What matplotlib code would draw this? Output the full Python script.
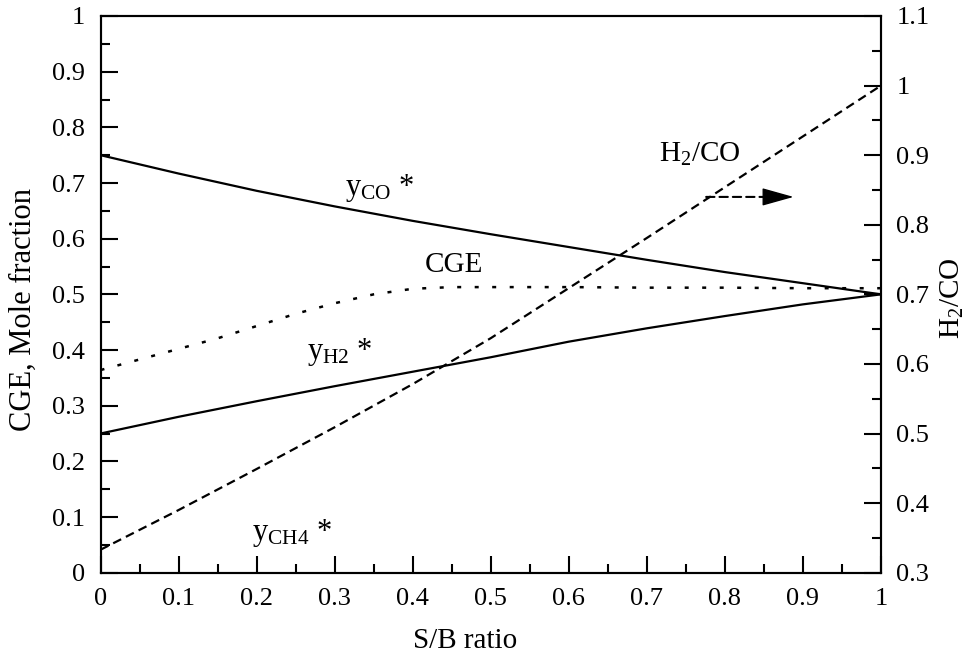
import matplotlib
matplotlib.use("Agg")
import matplotlib.pyplot as plt
from matplotlib.ticker import FixedLocator, MultipleLocator, FixedFormatter

plt.rcParams["font.family"] = ["Liberation Serif", "DejaVu Serif"]
plt.rcParams["mathtext.fontset"] = "custom"
plt.rcParams["mathtext.rm"] = "Liberation Serif"
plt.rcParams["mathtext.it"] = "Liberation Serif:italic"

# Steam-to-biomass ratio
sb = [0.0, 0.1, 0.2, 0.3, 0.4, 0.5, 0.6, 0.7, 0.8, 0.9, 1.0]
y_co = [0.750, 0.717, 0.686, 0.658, 0.632, 0.608, 0.585, 0.562, 0.540, 0.520, 0.500]
y_h2 = [0.250, 0.280, 0.308, 0.335, 0.361, 0.387, 0.415, 0.439, 0.461, 0.482, 0.500]
h2_co = [0.333, 0.390, 0.449, 0.509, 0.571, 0.637, 0.709, 0.781, 0.854, 0.927, 1.000]

# Cold gas efficiency
sb_cge = [0.0, 0.05, 0.1, 0.15, 0.2, 0.25, 0.3, 0.35, 0.4, 0.45, 0.5, 0.6, 0.7, 0.8, 0.9, 1.0]
cge = [0.364, 0.383, 0.402, 0.421, 0.443, 0.465, 0.484, 0.500, 0.510, 0.513, 0.513,
       0.513, 0.512, 0.512, 0.511, 0.511]

x_ticks = [0.0, 0.1, 0.2, 0.3, 0.4, 0.5, 0.6, 0.7, 0.8, 0.9, 1.0]
x_labels = ["0", "0.1", "0.2", "0.3", "0.4", "0.5", "0.6", "0.7", "0.8", "0.9", "1"]
left_ticks = [0.0, 0.1, 0.2, 0.3, 0.4, 0.5, 0.6, 0.7, 0.8, 0.9, 1.0]
left_labels = ["0", "0.1", "0.2", "0.3", "0.4", "0.5", "0.6", "0.7", "0.8", "0.9", "1"]
right_ticks = [0.3, 0.4, 0.5, 0.6, 0.7, 0.8, 0.9, 1.0, 1.1]
right_labels = ["0.3", "0.4", "0.5", "0.6", "0.7", "0.8", "0.9", "1", "1.1"]

fig = plt.figure(figsize=(9.74, 6.61), dpi=100)
ax = fig.add_axes([0.1032, 0.1336, 0.8013, 0.8422])
ax2 = ax.twinx()

lw = 1.6
dash = (0, (4.0, 2.4))
ax.plot(sb, y_co, color="black", lw=lw)
ax.plot(sb, y_h2, color="black", lw=lw)
ax.plot(sb_cge, cge, color="black", lw=1.8, linestyle=(0, (1.6, 5.4)))
ax2.plot(sb, h2_co, color="black", lw=lw, linestyle=dash)

ax.set_xlim(0, 1)
ax.set_ylim(0, 1)
ax2.set_ylim(0.3, 1.1)

ax.xaxis.set_major_locator(FixedLocator(x_ticks))
ax.xaxis.set_major_formatter(FixedFormatter(x_labels))
ax.xaxis.set_minor_locator(MultipleLocator(0.05))
ax.yaxis.set_major_locator(FixedLocator(left_ticks))
ax.yaxis.set_major_formatter(FixedFormatter(left_labels))
ax.yaxis.set_minor_locator(MultipleLocator(0.05))
ax2.yaxis.set_major_locator(FixedLocator(right_ticks))
ax2.yaxis.set_major_formatter(FixedFormatter(right_labels))
ax2.yaxis.set_minor_locator(MultipleLocator(0.05))

for a in (ax, ax2):
    for s in a.spines.values():
        s.set_linewidth(1.5)
        s.set_color("black")

ax.tick_params(which="both", direction="in", top=False, right=False, width=1.5,
               labelsize=19, pad=11, colors="black")
ax.tick_params(which="major", length=12.2)
ax.tick_params(which="minor", length=6.5)
ax2.tick_params(which="both", direction="in", left=False, right=True, width=1.5,
                labelsize=19, pad=11, colors="black")
ax2.tick_params(which="major", length=12.2)
ax2.tick_params(which="minor", length=6.5)

ax.set_xlabel("S/B ratio", fontsize=21)
ax.xaxis.set_label_coords(0.4677, -0.099)
ax.set_ylabel("CGE, Mole fraction", fontsize=22)
ax.yaxis.set_label_coords(-0.080, 0.472)
ax2.set_ylabel(r"H$_2$/CO", fontsize=21)
ax2.yaxis.set_label_coords(1.074, 0.493)

# Curve labels
ax.text(0.3136, 0.678, r"y$_{\mathrm{CO}}$ *", fontsize=22, va="baseline", ha="left")
ax.text(0.2645, 0.3845, r"y$_{\mathrm{H2}}$ *", fontsize=22, va="baseline", ha="left")
ax.text(0.194, 0.0587, r"y$_{\mathrm{CH4}}$ *", fontsize=22, va="baseline", ha="left")
ax.text(0.416, 0.540, "CGE", fontsize=21, va="baseline", ha="left")
ax.text(0.7156, 0.738, r"H$_2$/CO", fontsize=21, va="baseline", ha="left")

# Arrow pointing the H2/CO curve to the right-hand axis: dashed shaft, solid head
ax2.annotate("", xy=(0.855, 0.840), xytext=(0.776, 0.840),
             arrowprops=dict(arrowstyle="-", color="black", lw=1.5,
                             linestyle=dash, shrinkA=0, shrinkB=0))
ax2.annotate("", xy=(0.888, 0.840), xytext=(0.852, 0.840),
             arrowprops=dict(arrowstyle="-|>,head_length=1.0,head_width=0.28",
                             mutation_scale=20, color="black", lw=1.0,
                             shrinkA=0, shrinkB=0))

fig.savefig("out.png", dpi=100)
